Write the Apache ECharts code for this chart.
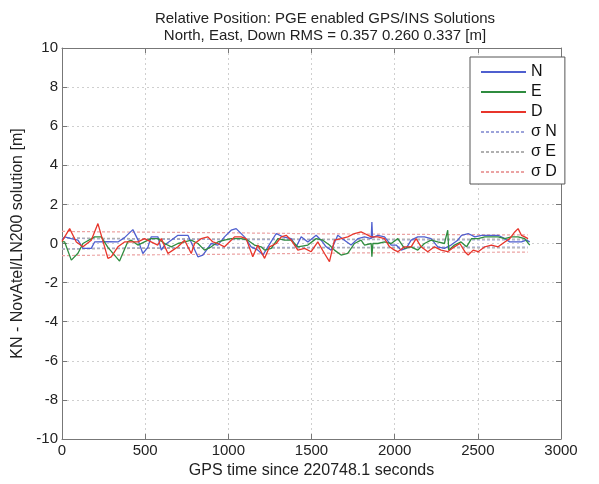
<!DOCTYPE html>
<html>
<head>
<meta charset="utf-8">
<script src="https://cdn.jsdelivr.net/npm/echarts@6/dist/echarts.min.js"></script>
<style>html,body{margin:0;padding:0;background:#fff}#c{width:599px;height:484px}</style>
</head>
<body>
<div id="c"></div>
<script>
// ---- data ----
const titleLines = ['Relative Position: PGE enabled GPS/INS Solutions', 'North, East, Down RMS = 0.357 0.260 0.337 [m]'];
const xTicks = [0, 500, 1000, 1500, 2000, 2500, 3000];
const yTicks = [-10, -8, -6, -4, -2, 0, 2, 4, 6, 8, 10];

const tN = [0,16,56,96,126,176,196,276,336,376,426,456,486,516,536,577,597,617,697,757,817,847,897,937,977,1017,1047,1097,1137,1178,1208,1238,1288,1328,1378,1408,1438,1478,1528,1558,1588,1618,1658,1698,1738,1779,1819,1859,1863,1867,1899,1939,1979,2009,2039,2069,2099,2139,2179,2219,2259,2299,2339,2379,2402,2442,2482,2522,2562,2622,2662,2692,2732,2762,2792,2812];
const vN = [0.2,0.34,0.25,0.17,-0.25,-0.25,0.08,0.1,0.08,0.3,0.71,0.2,-0.51,-0.2,0.34,0.34,-0.34,-0.08,0.42,0.42,-0.68,-0.59,0,-0.08,0.34,0.68,0.76,0.34,-0.17,-0.34,-0.59,-0.17,0.51,0.34,0.25,-0.17,0.34,0.08,0.42,0.17,-0.17,-0.34,0.42,0.17,-0.08,0.25,0.34,0.25,1.1,0.3,0.42,0.34,-0.08,-0.08,-0.34,-0.25,0.17,0.34,0.34,0.25,-0.17,-0.25,-0.08,0.17,0.42,0.51,0.34,0.42,0.42,0.42,0.25,0.08,0.08,0.08,0.17,0.08];

const tE = [0,16,56,96,126,196,236,276,346,396,416,456,536,577,617,657,697,737,777,817,857,897,937,977,1017,1077,1117,1157,1197,1218,1258,1298,1338,1378,1418,1478,1528,1568,1608,1638,1678,1718,1758,1798,1819,1859,1863,1869,1899,1939,1979,2019,2059,2099,2139,2179,2219,2259,2299,2319,2325,2359,2399,2432,2462,2502,2542,2582,2622,2662,2702,2742,2782,2812];
const vE = [0.1,0.08,-0.85,-0.5,0,0.34,0.34,-0.2,-0.9,0.1,0.17,-0.08,0.25,0.25,0,-0.17,0,0.08,0.17,0,-0.34,-0.17,0.08,0.17,0.25,0.25,0.17,-0.08,-0.17,-0.34,-0.25,0.25,0.17,0.17,-0.17,-0.08,0.25,0.17,-0.08,-0.34,-0.59,-0.51,0,0.17,-0.08,0,-0.68,0,0,0.08,0,0.25,-0.25,-0.17,-0.34,0,0.17,0.08,0,0.68,-0.34,-0.08,0.08,-0.17,0.25,0.25,0.34,0.34,0.34,0.25,0.34,0.34,0.25,-0.08];

const tD = [0,16,46,86,126,176,216,276,296,336,376,456,496,576,597,637,667,697,737,777,797,837,877,907,937,977,1017,1037,1077,1107,1147,1177,1218,1248,1288,1318,1348,1378,1418,1458,1498,1538,1578,1608,1638,1678,1718,1758,1798,1819,1859,1899,1939,1969,1999,2019,2059,2099,2129,2159,2199,2239,2279,2319,2359,2392,2422,2442,2472,2502,2542,2582,2622,2662,2692,2722,2742,2762,2782,2802];
const vD = [0.1,0.34,0.76,0.08,-0.17,0.17,1.02,-0.76,-0.68,-0.17,0.08,0.08,0.25,-0.08,0.25,-0.51,-0.34,-0.17,0.17,-0.51,0,0.25,0.34,0.08,0,-0.17,0.17,0.34,0.34,0.25,-0.68,-0.08,-0.76,-0.17,0,0.34,0.42,0.17,-0.34,-0.25,-0.42,0.08,-0.51,-0.93,0.17,0.25,0.34,0.51,0.59,0.51,0.34,0.34,0.25,-0.17,-0.34,-0.42,-0.17,-0.17,0.25,-0.17,-0.42,-0.17,-0.34,-0.42,-0.17,0,-0.42,-0.59,-0.34,-0.42,-0.17,-0.08,-0.17,0.08,0.25,0.59,0.76,0.42,0.34,0.25];

const tSig = [0, 200, 500, 1000, 1500, 2000, 2500, 2800];
const sigN = [0.28, 0.24, 0.22, 0.2, 0.2, 0.19, 0.18, 0.18];
const sigE = [0.3, 0.27, 0.25, 0.24, 0.23, 0.22, 0.22, 0.22];
const sigD = [0.62, 0.6, 0.58, 0.55, 0.5, 0.47, 0.45, 0.44];

const legendNames = ['N', 'E', 'D', 'σ N', 'σ E', 'σ D'];
// ---- chart ----
const font = 'Liberation Sans, Arial, sans-serif';
const pairs = (t, v, s) => t.map((x, i) => [x, (s || 1) * v[i]]);
const colN = '#4f5fcf', colE = '#2f8c3f', colD = '#e8352b';
const colSN = '#9ca3da', colSE = '#b0b0b0', colSD = '#eba3a3';

function solid(name, t, v, c) {
  return {name, type: 'line', data: pairs(t, v), showSymbol: false, symbol: 'none', smooth: false,
    lineStyle: {color: c, width: 1.3}, itemStyle: {color: c}, z: 5, animation: false};
}
function sig(name, t, v, c, s) {
  return {name, type: 'line', data: pairs(t, v, s), showSymbol: false, symbol: 'none',
    lineStyle: {color: c, width: 1.2, type: [3, 2]}, itemStyle: {color: c}, z: 3, animation: false};
}

const chart = echarts.init(document.getElementById('c'), null, {renderer: 'canvas'});
const grid = {left: 62, right: 38, top: 48, bottom: 42};
const plain = v => String(v);
chart.setOption({
  animation: false,
  backgroundColor: '#fff',
  title: {
    text: titleLines.join('\n'), left: 320, top: 5, textAlign: 'center',
    textStyle: {fontFamily: font, fontSize: 15, fontWeight: 'normal', color: '#222', lineHeight: 17}
  },
  legend: {
    orient: 'vertical', left: 470, top: 57, data: legendNames,
    backgroundColor: '#fff', borderColor: '#555', borderWidth: 1, padding: [7, 8, 4, 10],
    itemWidth: 45, itemHeight: 14, itemGap: 4, itemStyle: {opacity: 0},
    textStyle: {fontFamily: font, fontSize: 16, color: '#111', width: 33, align: 'left'}
  },
  grid,
  xAxis: [{
    type: 'value', min: 0, max: 3000, interval: 500, position: 'bottom',
    name: 'GPS time since 220748.1 seconds', nameLocation: 'middle', nameGap: 24,
    nameTextStyle: {fontFamily: font, fontSize: 16, color: '#222'},
    axisLine: {show: true, onZero: false, lineStyle: {color: '#777', width: 1}},
    axisTick: {show: true, inside: true, length: 5, lineStyle: {color: '#777'}},
    axisLabel: {fontFamily: font, fontSize: 15, color: '#222', margin: 4, formatter: plain},
    splitLine: {show: true, lineStyle: {color: '#cfcfcf', type: [2, 3]}}
  }, {
    type: 'value', min: 0, max: 3000, interval: 500, position: 'top',
    axisLine: {show: true, onZero: false, lineStyle: {color: '#777', width: 1}},
    axisTick: {show: true, inside: true, length: 5, lineStyle: {color: '#777'}},
    axisLabel: {show: false}, splitLine: {show: false}
  }],
  yAxis: [{
    type: 'value', min: -10, max: 10, interval: 2, position: 'left',
    name: 'KN - NovAtel/LN200 solution [m]', nameLocation: 'middle', nameGap: 33,
    nameTextStyle: {fontFamily: font, fontSize: 16, color: '#222'},
    axisLine: {show: true, onZero: false, lineStyle: {color: '#777', width: 1}},
    axisTick: {show: true, inside: true, length: 5, lineStyle: {color: '#777'}},
    axisLabel: {fontFamily: font, fontSize: 15, color: '#222', margin: 4, formatter: plain},
    splitLine: {show: true, lineStyle: {color: '#cfcfcf', type: [2, 3]}}
  }, {
    type: 'value', min: -10, max: 10, interval: 2, position: 'right',
    axisLine: {show: true, onZero: false, lineStyle: {color: '#777', width: 1}},
    axisTick: {show: true, inside: true, length: 5, lineStyle: {color: '#777'}},
    axisLabel: {show: false}, splitLine: {show: false}
  }],
  series: [
    solid('N', tN, vN, colN),
    solid('E', tE, vE, colE),
    solid('D', tD, vD, colD),
    sig('σ N', tSig, sigN, colSN, 1), sig('σ N', tSig, sigN, colSN, -1),
    sig('σ E', tSig, sigE, colSE, 1), sig('σ E', tSig, sigE, colSE, -1),
    sig('σ D', tSig, sigD, colSD, 1), sig('σ D', tSig, sigD, colSD, -1)
  ]
});
</script>
</body>
</html>
